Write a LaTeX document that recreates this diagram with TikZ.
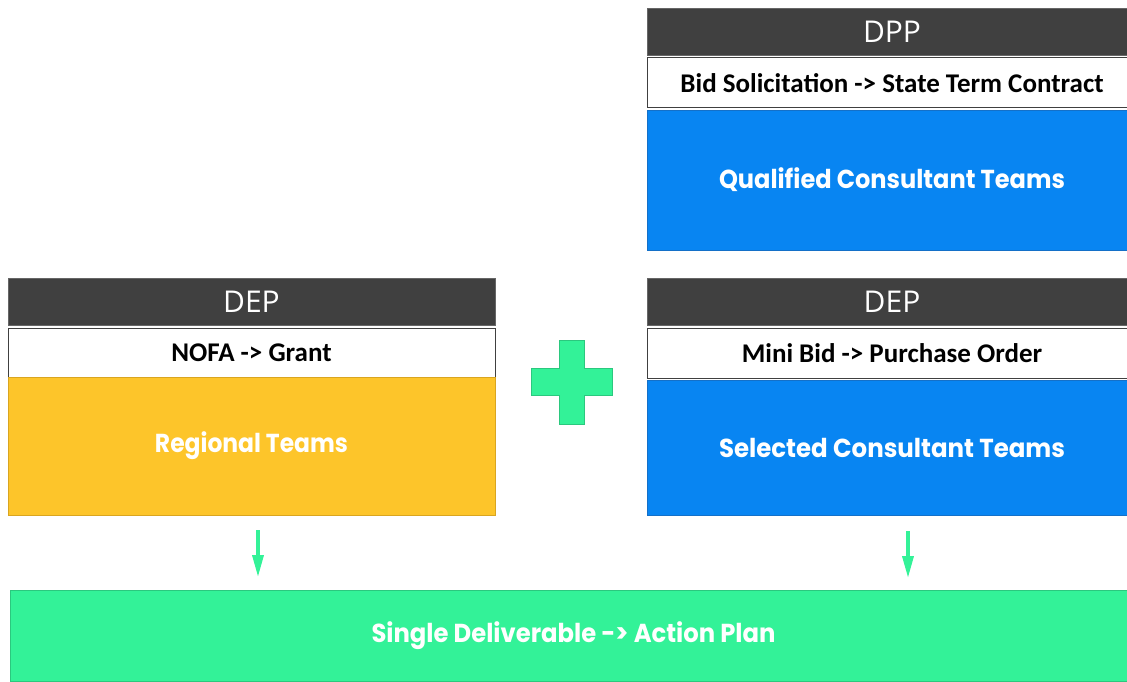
\documentclass[tikz,border=0pt]{standalone}
\usepackage{fontspec}
\setmainfont{Carlito}
\newfontfamily\headfont{Open Sans}
\newfontfamily\boldsans{Poppins}[UprightFont=* Bold]
\usetikzlibrary{arrows.meta}
\definecolor{hdr}{HTML}{404040}
\definecolor{bluebox}{HTML}{0885F2}
\definecolor{blueedge}{HTML}{1470C8}
\definecolor{yel}{HTML}{FDC52A}
\definecolor{yeledge}{HTML}{D9A520}
\definecolor{grn}{HTML}{33F298}
\definecolor{grnedge}{HTML}{2BC87E}
\newcommand{\fitto}[2]{\resizebox{#1}{\height}{#2}}
\tikzset{
  x=1pt, y=-1pt,
  box/.style={rectangle, anchor=north west, inner sep=0pt, outer sep=0pt},
  hdrbox/.style={box, fill=hdr, draw=hdr!80, line width=0.8pt, text=white, font=\headfont\fontsize{30}{34}\selectfont},
  subbox/.style={box, fill=white, draw=hdr, line width=1pt, text=black, font=\bfseries\fontsize{27}{30}\selectfont},
  bigtext/.style={text=white, font=\boldsans\fontsize{26}{30}\selectfont},
  flowarrow/.style={draw=grn, line width=3.5pt, -{Triangle[width=11pt,length=22pt]}}
}
\begin{document}
\begin{tikzpicture}
\useasboundingbox (0,0) rectangle (1127,682);
% top right DPP group
\node[hdrbox, minimum width=490, minimum height=47] (dpph) at (647,8) {DPP};
\node[subbox, minimum width=490, minimum height=50] (dpps) at (647,58) {Bid Solicitation -> State Term Contract};
\node[box, fill=bluebox, draw=blueedge, line width=0.8pt, minimum width=490, minimum height=140, bigtext] (qct) at (647,110) {\fitto{346pt}{Qualified Consultant Teams}};
% left DEP group
\node[hdrbox, minimum width=487, minimum height=47] (deplh) at (8,278) {DEP};
\node[subbox, minimum width=487, minimum height=49] (depls) at (8,328) {NOFA -> Grant};
\node[box, fill=yel, draw=yeledge, line width=0.8pt, minimum width=487, minimum height=138, bigtext] (reg) at (8,377) {\fitto{193pt}{Regional Teams}};
% right DEP group
\node[hdrbox, minimum width=490, minimum height=47] (deprh) at (647,278) {DEP};
\node[subbox, minimum width=490, minimum height=50] (deprs) at (647,328) {Mini Bid -> Purchase Order};
\node[box, fill=bluebox, draw=blueedge, line width=0.8pt, minimum width=490, minimum height=135, bigtext] (sct) at (647,380) {\fitto{346pt}{Selected Consultant Teams}};
% plus
\draw[fill=grn, draw=grnedge, line width=0.8pt]
  (559,340) -- (584,340) -- (584,368) -- (612,368) -- (612,395) -- (584,395)
  -- (584,424) -- (559,424) -- (559,395) -- (531,395) -- (531,368) -- (559,368) -- cycle;
% bottom
\node[box, fill=grn, draw=grnedge, line width=0.8pt, minimum width=1127, minimum height=91, bigtext] (act) at (10,590) {\fitto{404pt}{Single Deliverable -> Action Plan}};
% arrows
\coordinate (la1) at (258,530);
\coordinate (la2) at (258,577);
\coordinate (ra1) at (908,531);
\coordinate (ra2) at (908,578);
\draw[flowarrow] (la1) -- (la2);
\draw[flowarrow] (ra1) -- (ra2);
\end{tikzpicture}
\end{document}
